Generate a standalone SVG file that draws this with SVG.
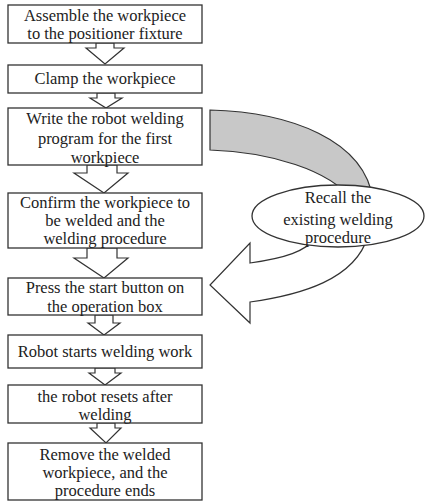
<svg xmlns="http://www.w3.org/2000/svg" width="427" height="502" viewBox="0 0 427 502">
<style>
.box{fill:#fff;stroke:#333;stroke-width:1.3}
.arr{fill:#fff;stroke:#333;stroke-width:1.2;stroke-linejoin:miter}
.t{font-family:'Liberation Serif',serif;font-size:16.5px;fill:#222;text-anchor:middle}
</style>
<rect width="427" height="502" fill="#fff"/>
<g id="connectors">
<path class="arr" style="fill:#c8c8c8" d="M210,110 L210,150 C270,152 330,170 352,200 L373,200 C365,140 290,112 210,110 Z"/>
<path class="arr" d="M368,236 C355,280 300,295 250,302 L250,323 L210,285 L250,243 L250,263 C285,258 305,252 318,236 Z"/>
<polygon class="arr" points="96,43 114,43 114,48 124,48 105,64 86,48 96,48"/>
<polygon class="arr" points="97,93 115,93 115,98 122,98 106,108 90,98 97,98"/>
<polygon class="arr" points="87,165 117,165 117,173 128,173 104,193 74,173 87,173"/>
<polygon class="arr" points="87,248 117,248 117,258 128,258 104,278 74,258 87,258"/>
<polygon class="arr" points="95,315 113,315 113,323 120,323 104,335 88,323 95,323"/>
<polygon class="arr" points="95,368 115,368 115,373 121,373 105,385 89,373 95,373"/>
<polygon class="arr" points="97,423 115,423 115,428 121,428 106,443 90,428 97,428"/>
</g>
<g class="t">
<g id="n1"><rect class="box" x="8" y="5" width="194" height="38"/><text x="105" y="21">Assemble the workpiece</text><text x="105" y="39">to the positioner fixture</text></g>
<g id="n2"><rect class="box" x="8" y="65" width="194" height="28"/><text x="105" y="84">Clamp the workpiece</text></g>
<g id="n3"><rect class="box" x="8" y="108" width="194" height="57"/><text x="105" y="124">Write the robot welding</text><text x="105" y="144">program for the first</text><text x="105" y="163">workpiece</text></g>
<g id="n4"><rect class="box" x="8" y="193" width="194" height="55"/><text x="105" y="208">Confirm the workpiece to</text><text x="105" y="226">be welded and the</text><text x="105" y="244">welding procedure</text></g>
<g id="n5"><rect class="box" x="8" y="278" width="194" height="37"/><text x="105" y="293">Press the start button on</text><text x="105" y="312">the operation box</text></g>
<g id="n6"><rect class="box" x="8" y="335" width="194" height="33"/><text x="105" y="357">Robot starts welding work</text></g>
<g id="n7"><rect class="box" x="8" y="385" width="194" height="38"/><text x="105" y="402">the robot resets after</text><text x="105" y="420">welding</text></g>
<g id="n8"><rect class="box" x="8" y="443" width="194" height="57"/><text x="105" y="460">Remove the welded</text><text x="105" y="478">workpiece, and the</text><text x="105" y="496">procedure ends</text></g>
<g id="recall"><ellipse class="box" cx="338" cy="216" rx="86" ry="31"/><text x="338" y="203">Recall the</text><text x="338" y="225">existing welding</text><text x="338" y="243">procedure</text></g>
</g>
</svg>
